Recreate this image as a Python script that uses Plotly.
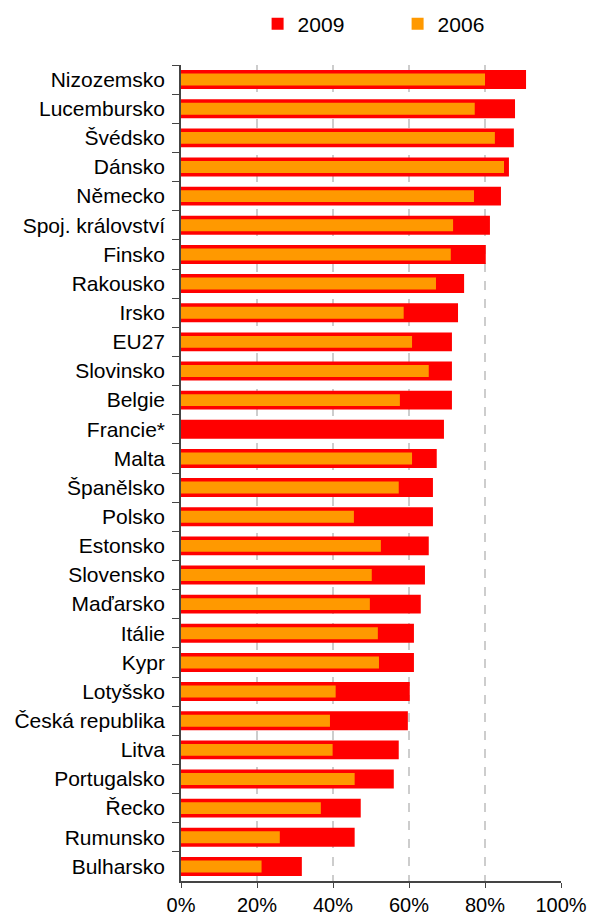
import plotly.graph_objects as go

# Countries, top to bottom
countries = ["Nizozemsko", "Lucembursko", "Švédsko", "Dánsko", "Německo",
             "Spoj. království", "Finsko", "Rakousko", "Irsko", "EU27",
             "Slovinsko", "Belgie", "Francie*", "Malta", "Španělsko",
             "Polsko", "Estonsko", "Slovensko", "Maďarsko", "Itálie",
             "Kypr", "Lotyšsko", "Česká republika", "Litva", "Portugalsko",
             "Řecko", "Rumunsko", "Bulharsko"]

# shares in %
v2009 = [90.8, 87.9, 87.6, 86.3, 84.2, 81.3, 80.2, 74.5, 72.9, 71.3,
         71.3, 71.3, 69.2, 67.3, 66.3, 66.3, 65.2, 64.2, 63.1, 61.3,
         61.3, 60.2, 59.7, 57.3, 56.0, 47.3, 45.7, 31.8]
v2006 = [80.0, 77.3, 82.6, 85.0, 77.1, 71.6, 71.0, 67.1, 58.6, 60.8,
         65.2, 57.6, None, 60.8, 57.3, 45.5, 52.6, 50.2, 49.7, 51.8,
         52.1, 40.7, 39.2, 39.9, 45.7, 36.8, 26.0, 21.2]

x09 = [v / 100 for v in v2009]
x06 = [v / 100 if v is not None else None for v in v2006]

fig = go.Figure()
fig.add_trace(go.Bar(y=countries, x=x09, name="2009", orientation="h",
                     marker=dict(color="#FF0000", line=dict(width=0)), width=0.65))
fig.add_trace(go.Bar(y=countries, x=x06, name="2006", orientation="h",
                     marker=dict(color="#FF9900", line=dict(width=0)), width=0.41))

fig.update_layout(
    width=590, height=919,
    barmode="overlay",
    plot_bgcolor="white", paper_bgcolor="white",
    font=dict(family="Liberation Sans, Arial, sans-serif", size=20, color="black"),
    margin=dict(l=181, r=29, t=65, b=38, autoexpand=False),
    showlegend=True,
    legend=dict(orientation="h", x=0.57, xanchor="center", y=1.05, yanchor="middle",
                font=dict(size=21), entrywidth=95,
                itemwidth=30, traceorder="normal"),
)

fig.update_xaxes(range=[0, 1], dtick=0.2, tickformat=".0%", automargin=False,
                 showgrid=True, gridcolor="rgb(205,205,205)", griddash="dash", gridwidth=1.5,
                 showline=True, linecolor="#444", linewidth=1.5,
                 ticks="outside", ticklen=5, tickcolor="#444",
                 tickfont=dict(size=20), zeroline=False)
fig.update_yaxes(categoryorder="array", categoryarray=countries, autorange="reversed",
                 automargin=False,
                 showline=True, linecolor="#444", linewidth=1.5,
                 ticks="outside", tickson="boundaries", ticklen=7, tickcolor="#444",
                 ticklabelstandoff=10,
                 tickfont=dict(size=21), showgrid=False)

# drop the default 8px page margin so the figure sits at the window corner
fig.write_html("out.html", config={"displayModeBar": False},
               post_script="document.body.style.margin='0';")
